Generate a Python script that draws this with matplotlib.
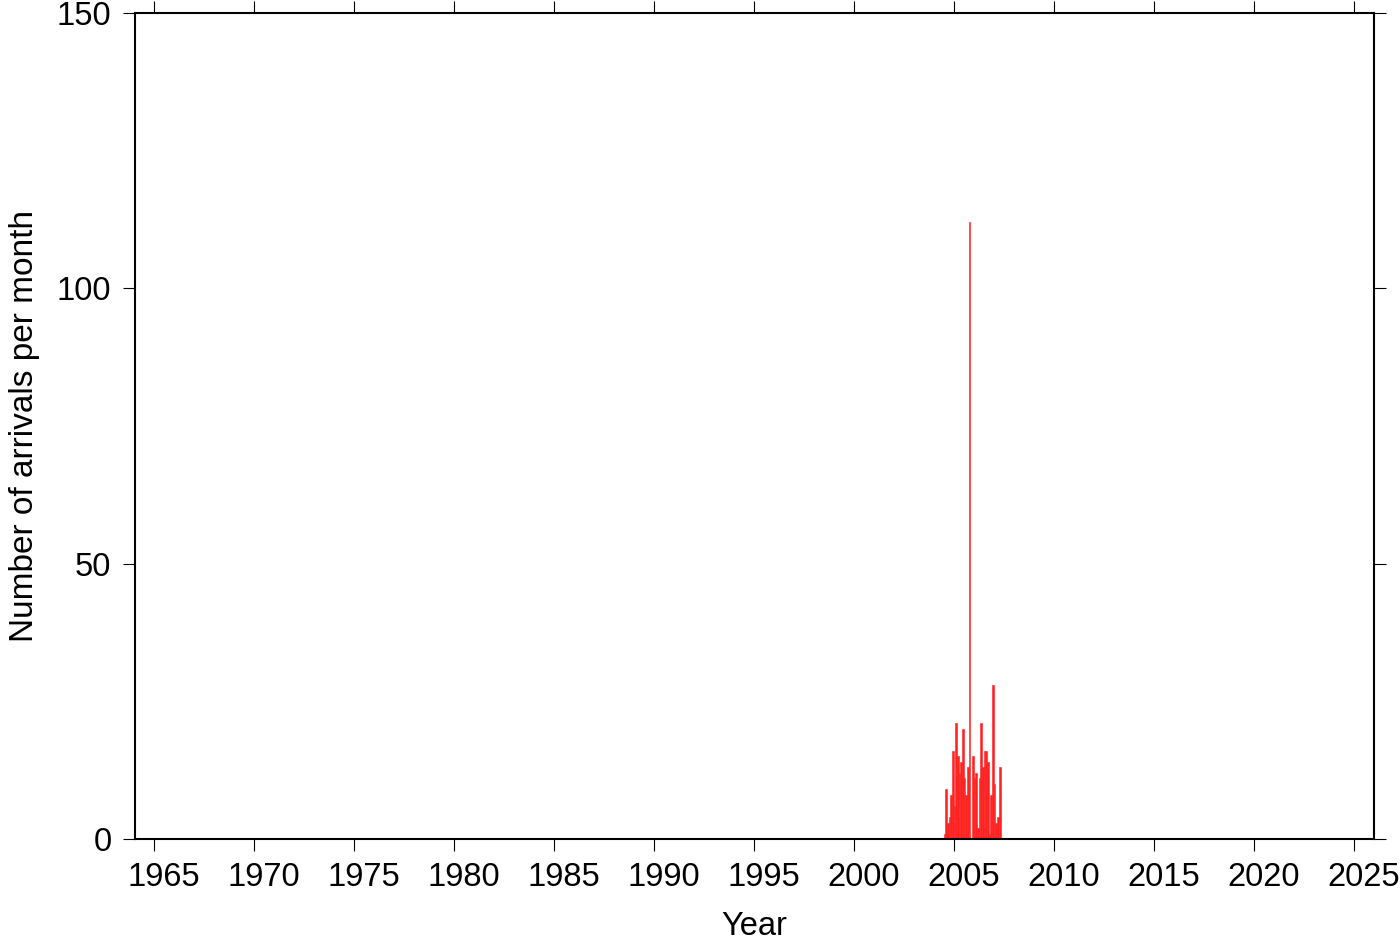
import matplotlib.pyplot as plt
import matplotlib.transforms as mtransforms

plt.rcParams['font.family'] = ['Liberation Sans', 'DejaVu Sans']

# monthly arrival counts, starting July 2004
start_year = 2004
start_month = 7
counts = [1, 9, 3, 4, 8, 16,
          6, 21, 15, 12, 14, 20, 11, 8, 13, 112, 0, 15,
          11, 12, 2, 11, 21, 13, 16, 16, 14, 1, 8, 28,
          10, 3, 4, 13]

year_ticks = list(range(1965, 2030, 5))
y_ticks = [0, 50, 100, 150]

left = [start_year + (start_month - 1 + i) / 12 for i in range(len(counts))]

fig = plt.figure(figsize=(14, 9.42), dpi=100)
ax = fig.add_axes([0.0961, 0.1093, 0.9814 - 0.0961, 0.9862 - 0.1093])

ax.bar(left, counts, width=1 / 12, align='edge', color='#ff2020',
       edgecolor='#ff2020', linewidth=0.4)

ax.set_xlim(1964.05, 2026.0)
ax.set_ylim(0, 150)
ax.set_xticks(year_ticks)
ax.set_yticks(y_ticks)

ax.tick_params(direction='out', length=8.6, width=0.8, labelsize=23.5,
               top=True, right=True, pad=8)
for s in ax.spines.values():
    s.set_linewidth(1.5)

# year labels sit a little right of their ticks
shift = mtransforms.ScaledTranslation(0.1, 0, fig.dpi_scale_trans)
for lab in ax.get_xticklabels():
    lab.set_transform(lab.get_transform() + shift)

ax.set_xlabel("Year", fontsize=23.5, labelpad=13)
ax.set_ylabel("Number of arrivals per month", fontsize=24, labelpad=12)

fig.savefig("out.png", dpi=100)
